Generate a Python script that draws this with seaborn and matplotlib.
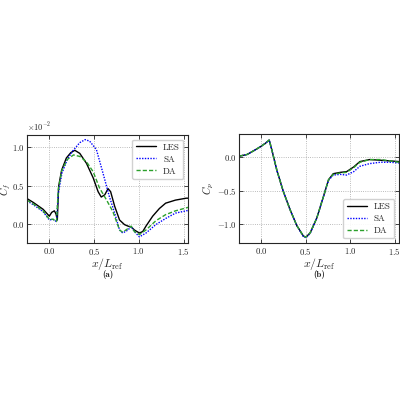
"""
Cf / Cp comparison LES vs SA vs DA
"""
import numpy as np
import pandas as pd
import matplotlib
matplotlib.use('Agg')
import matplotlib.pyplot as plt
import seaborn as sns

# ---------------- data ----------------
# skin friction, values in units of 1e-2
cf_les_x = [-0.25, -0.18, -0.07, 0.0, 0.026, 0.056, 0.074, 0.089, 0.104, 0.137, 0.19, 0.24, 0.285,
            0.34, 0.415, 0.49, 0.545, 0.58, 0.62, 0.656, 0.685, 0.73, 0.785, 0.84, 0.88, 0.915, 0.95,
            1.007, 1.044, 1.08, 1.155, 1.23, 1.30, 1.41, 1.53, 1.55]
cf_les_y = [0.33, 0.28, 0.19, 0.10, 0.15, 0.17, 0.13, 0.05, 0.49, 0.70, 0.86, 0.93, 0.96,
            0.92, 0.79, 0.60, 0.42, 0.35, 0.38, 0.46, 0.42, 0.23, 0.05, -0.01, -0.03, -0.04, -0.08,
            -0.12, -0.10, -0.03, 0.10, 0.20, 0.27, 0.31, 0.335, 0.335]

cf_sa_x = [-0.25, -0.18, -0.07, 0.0, 0.04, 0.08, 0.10, 0.14, 0.20, 0.26, 0.34, 0.40, 0.45, 0.526,
           0.60, 0.67, 0.73, 0.785, 0.82, 0.88, 0.915, 0.95, 1.007, 1.08, 1.19, 1.30, 1.41, 1.55]
cf_sa_y = [0.30, 0.25, 0.16, 0.05, 0.06, 0.03, 0.40, 0.66, 0.84, 0.95, 1.06, 1.10, 1.08, 0.97,
           0.66, 0.36, 0.14, -0.08, -0.12, -0.08, -0.03, -0.10, -0.17, -0.12, -0.01, 0.07, 0.14, 0.175]

cf_da_x = [-0.25, -0.18, -0.07, 0.0, 0.04, 0.08, 0.10, 0.14, 0.20, 0.27, 0.34, 0.415, 0.49, 0.56,
           0.64, 0.71, 0.785, 0.82, 0.88, 0.915, 0.95, 1.007, 1.08, 1.19, 1.30, 1.41, 1.55]
cf_da_y = [0.31, 0.26, 0.17, 0.06, 0.06, 0.03, 0.45, 0.70, 0.84, 0.90, 0.88, 0.81, 0.68, 0.47,
           0.31, 0.16, -0.08, -0.11, -0.06, -0.03, -0.10, -0.14, -0.08, 0.04, 0.12, 0.17, 0.215]

# pressure coefficient
cp_x = [-0.25, -0.16, -0.086, -0.01, 0.045, 0.09, 0.12, 0.176, 0.25, 0.326, 0.40, 0.476, 0.506,
        0.55, 0.625, 0.70, 0.757, 0.81, 0.89, 0.96, 1.04, 1.11, 1.22, 1.34, 1.45, 1.55]
cp_les = [0.01, 0.035, 0.09, 0.15, 0.20, 0.25, 0.10, -0.20, -0.52, -0.79, -1.02, -1.18, -1.19,
          -1.13, -0.91, -0.59, -0.34, -0.25, -0.23, -0.22, -0.15, -0.07, -0.04, -0.05, -0.06, -0.07]
cp_sa = [0.01, 0.035, 0.09, 0.15, 0.20, 0.25, 0.10, -0.20, -0.52, -0.79, -1.02, -1.19, -1.20,
         -1.14, -0.91, -0.59, -0.35, -0.27, -0.26, -0.27, -0.22, -0.14, -0.10, -0.08, -0.08, -0.09]
cp_da = [0.01, 0.035, 0.09, 0.15, 0.20, 0.25, 0.10, -0.20, -0.52, -0.79, -1.02, -1.18, -1.19,
         -1.13, -0.91, -0.59, -0.34, -0.26, -0.24, -0.23, -0.16, -0.08, -0.04, -0.04, -0.06, -0.08]

models = ['LES', 'SA', 'DA']
palette = {'LES': 'black', 'SA': 'blue', 'DA': '#2ca02c'}
dashes = {'LES': '', 'SA': (1, 1), 'DA': (3, 1.5)}

cf_df = pd.concat([
    pd.DataFrame({'x': cf_les_x, 'y': np.array(cf_les_y) * 1e-2, 'model': 'LES'}),
    pd.DataFrame({'x': cf_sa_x, 'y': np.array(cf_sa_y) * 1e-2, 'model': 'SA'}),
    pd.DataFrame({'x': cf_da_x, 'y': np.array(cf_da_y) * 1e-2, 'model': 'DA'}),
])
cp_df = pd.concat([
    pd.DataFrame({'x': cp_x, 'y': cp_les, 'model': 'LES'}),
    pd.DataFrame({'x': cp_x, 'y': cp_sa, 'model': 'SA'}),
    pd.DataFrame({'x': cp_x, 'y': cp_da, 'model': 'DA'}),
])

# ---------------- style ----------------
sns.set_theme(style='ticks')
plt.rcParams['font.family'] = 'serif'
plt.rcParams['font.serif'] = ['cmr10', 'DejaVu Serif']
plt.rcParams['mathtext.fontset'] = 'cm'
plt.rcParams['axes.formatter.use_mathtext'] = True
plt.rcParams['axes.unicode_minus'] = True

fig = plt.figure(figsize=(4, 4), dpi=100)
ax1 = fig.add_axes([0.0675, 0.3925, 0.4025, 0.27])
ax2 = fig.add_axes([0.5975, 0.3925, 0.4, 0.2725])

for ax, df in [(ax1, cf_df), (ax2, cp_df)]:
    sns.lineplot(data=df, x='x', y='y', hue='model', style='model', hue_order=models,
                 style_order=models, palette=palette, dashes=dashes, linewidth=1.0,
                 sort=False, ax=ax)
    ax.set_xlim(-0.25, 1.55)
    ax.set_xticks([0.0, 0.5, 1.0, 1.5])
    ax.grid(True, color='gray', linestyle=':', linewidth=0.6, alpha=0.7)
    ax.tick_params(direction='in', top=True, right=True, labelsize=6.3, length=3, width=0.6, pad=2)
    ax.tick_params(axis='y', pad=1.5)
    for s in ax.spines.values():
        s.set_linewidth(0.8)
    ax.set_xlabel(r'$x/L_{\rm ref}$', fontsize=8.5)
    ax.xaxis.set_label_coords(0.5, -0.19)
    ax.xaxis.label.set_verticalalignment('center')

ax1.set_ylim(-0.25e-2, 1.16e-2)
ax1.set_yticks([0.0, 0.005, 0.01])
ax1.ticklabel_format(axis='y', style='sci', scilimits=(-2, -2))
ax1.yaxis.get_offset_text().set_fontsize(6)
ax1.set_ylabel(r'$C_f$', fontsize=7.5)
ax1.yaxis.set_label_coords(-0.135, 0.5)
ax1.yaxis.label.set_verticalalignment('center')
ax1.legend(loc='upper right', fontsize=6.5, handlelength=2.2, framealpha=0.9, borderpad=0.4,
           labelspacing=0.4)

ax2.set_ylim(-1.28, 0.34)
ax2.set_yticks([0.0, -0.5, -1.0])
ax2.set_ylabel(r'$C_p$', fontsize=7.5)
ax2.yaxis.set_label_coords(-0.19, 0.5)
ax2.yaxis.label.set_verticalalignment('center')
ax2.legend(loc='lower right', fontsize=6.5, handlelength=2.2, framealpha=0.9, borderpad=0.4,
           labelspacing=0.4)

fig.text(0.27, 0.313, '(a)', ha='center', va='center', fontsize=6.5, family='cmb10')
fig.text(0.7975, 0.313, '(b)', ha='center', va='center', fontsize=6.5, family='cmb10')

plt.savefig('out.png', dpi=100, facecolor='white')
plt.close()
